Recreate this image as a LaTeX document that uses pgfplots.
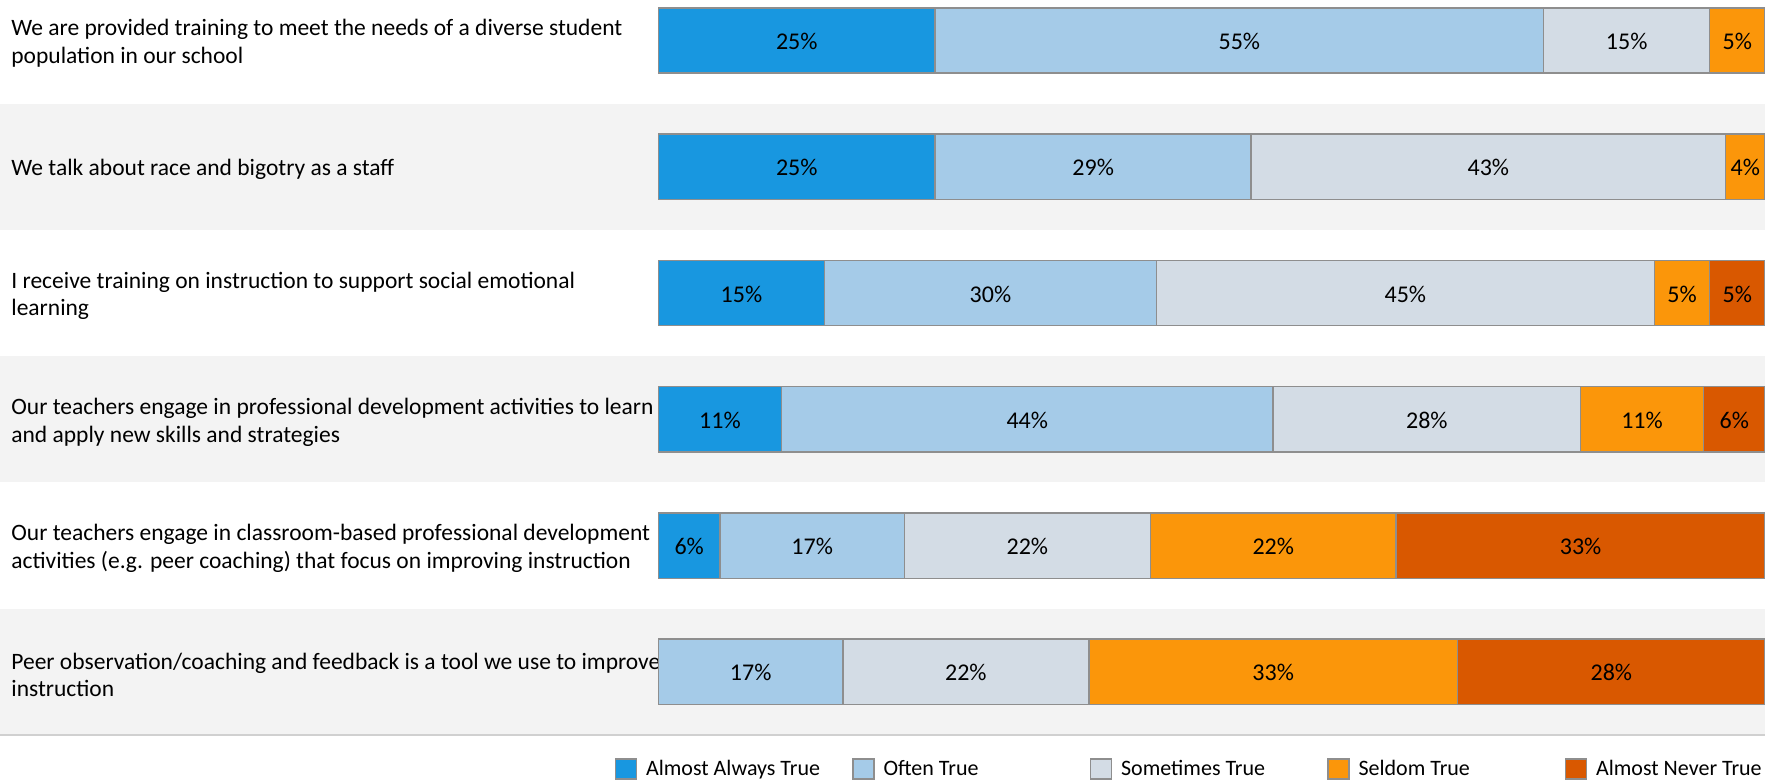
\documentclass[border=0pt]{standalone}
\usepackage{pgfplots}
\usepackage{pgfplotstable}
\pgfplotsset{compat=1.18}
\usepackage{fontspec}
\setmainfont{Carlito}
\definecolor{cAA}{HTML}{1897E0}
\definecolor{cOT}{HTML}{A5CBE8}
\definecolor{cST}{HTML}{D3DCE5}
\definecolor{cSE}{HTML}{FB960A}
\definecolor{cAN}{HTML}{D95800}
\definecolor{barborder}{HTML}{8E8E8E}
\definecolor{band}{HTML}{F3F3F3}
\definecolor{sepline}{HTML}{D0D0D0}
\pgfplotstableread{
y v
0 25
1 25
2 15
3 11.11
4 5.56
5 0
}\tAA
\pgfplotstableread{
y v
0 55
1 28.57
2 30
3 44.44
4 16.67
5 16.67
}\tOT
\pgfplotstableread{
y v
0 15
1 42.86
2 45
3 27.78
4 22.22
5 22.22
}\tST
\pgfplotstableread{
y v
0 5
1 3.57
2 5
3 11.11
4 22.22
5 33.33
}\tSE
\pgfplotstableread{
y v
0 0
1 0
2 5
3 5.56
4 33.33
5 27.78
}\tAN
\pgfplotsset{myframe/.style={
  at={(0pt,0pt)}, anchor=north west,
  scale only axis, width=882.5pt, height=367.5pt,
  xmin=-59.5, xmax=100, ymin=-0.3207, ymax=5.5, y dir=reverse,
  hide axis, clip=false}}
\begin{document}
\begin{tikzpicture}
% background axis: bands, separator, row labels
\begin{axis}[myframe]
\fill[band] (axis cs:-59.5,0.5) rectangle (axis cs:100,1.5);
\fill[band] (axis cs:-59.5,2.5) rectangle (axis cs:100,3.5);
\fill[band] (axis cs:-59.5,4.5) rectangle (axis cs:100,5.5);
\draw[sepline, line width=1.2pt] (axis cs:-59.5,5.5) -- (axis cs:100,5.5);
\begin{scope}[every node/.style={anchor=west, align=left, inner sep=0pt, xshift=5.5pt, yshift=-1.5pt, font=\fontsize{11.75}{13.8}\selectfont}]
\node at (axis cs:-59.5,0) {We are provided training to meet the needs of a diverse student\\population in our school};
\node at (axis cs:-59.5,1) {We talk about race and bigotry as a staff};
\node at (axis cs:-59.5,2) {I receive training on instruction to support social emotional\\learning};
\node at (axis cs:-59.5,3) {Our teachers engage in professional development activities to learn\\and apply new skills and strategies};
\node at (axis cs:-59.5,4) {Our teachers engage in classroom-based professional development\\activities (e.g. peer coaching) that focus on improving instruction};
\node at (axis cs:-59.5,5) {Peer observation/coaching and feedback is a tool we use to improve\\instruction};
\end{scope}
\end{axis}
% bars
\begin{axis}[myframe,
  xbar stacked, bar width=32.65pt,
  every axis plot/.append style={draw=barborder, line width=0.75pt},
  /pgf/number format/assume math mode=true,
  point meta=explicit,
  nodes near coords={\pgfmathfloatifflags{\pgfplotspointmeta}{0}{}{\pgfmathprintnumber[fixed,precision=0]{\pgfplotspointmeta}\%}},
  every node near coord/.append style={anchor=center, yshift=-0.5pt, font=\fontsize{12}{14}\selectfont, text=black, inner sep=0pt},
  legend columns=5,
  legend style={at={(axis description cs:0.3482,0)}, anchor=west, yshift=-17pt,
    draw=none, fill=none, inner sep=0pt, outer sep=0pt,
    font=\fontsize{11}{13}\selectfont,
    /tikz/every odd column/.append style={column sep=4.5pt},
    /tikz/every even column/.append style={column sep=0pt},
    nodes={inner sep=0pt}},
  legend cell align=left,
  legend image code/.code={\draw[#1, draw=barborder, line width=0.75pt] (0pt,-5pt) rectangle (10.5pt,5pt);},
]
\addplot[fill=cAA] table[x=v, y=y, meta=v] {\tAA};
\addlegendentry{\makebox[103pt][l]{Almost Always True}}
\addplot[fill=cOT] table[x=v, y=y, meta=v] {\tOT};
\addlegendentry{\makebox[103pt][l]{Often True}}
\addplot[fill=cST] table[x=v, y=y, meta=v] {\tST};
\addlegendentry{\makebox[103pt][l]{Sometimes True}}
\addplot[fill=cSE] table[x=v, y=y, meta=v] {\tSE};
\addlegendentry{\makebox[103pt][l]{Seldom True}}
\addplot[fill=cAN] table[x=v, y=y, meta=v] {\tAN};
\addlegendentry{Almost Never True}
\end{axis}
\pgfresetboundingbox
\path (0pt,0pt) rectangle (882.5pt,-391pt);
\end{tikzpicture}
\end{document}
